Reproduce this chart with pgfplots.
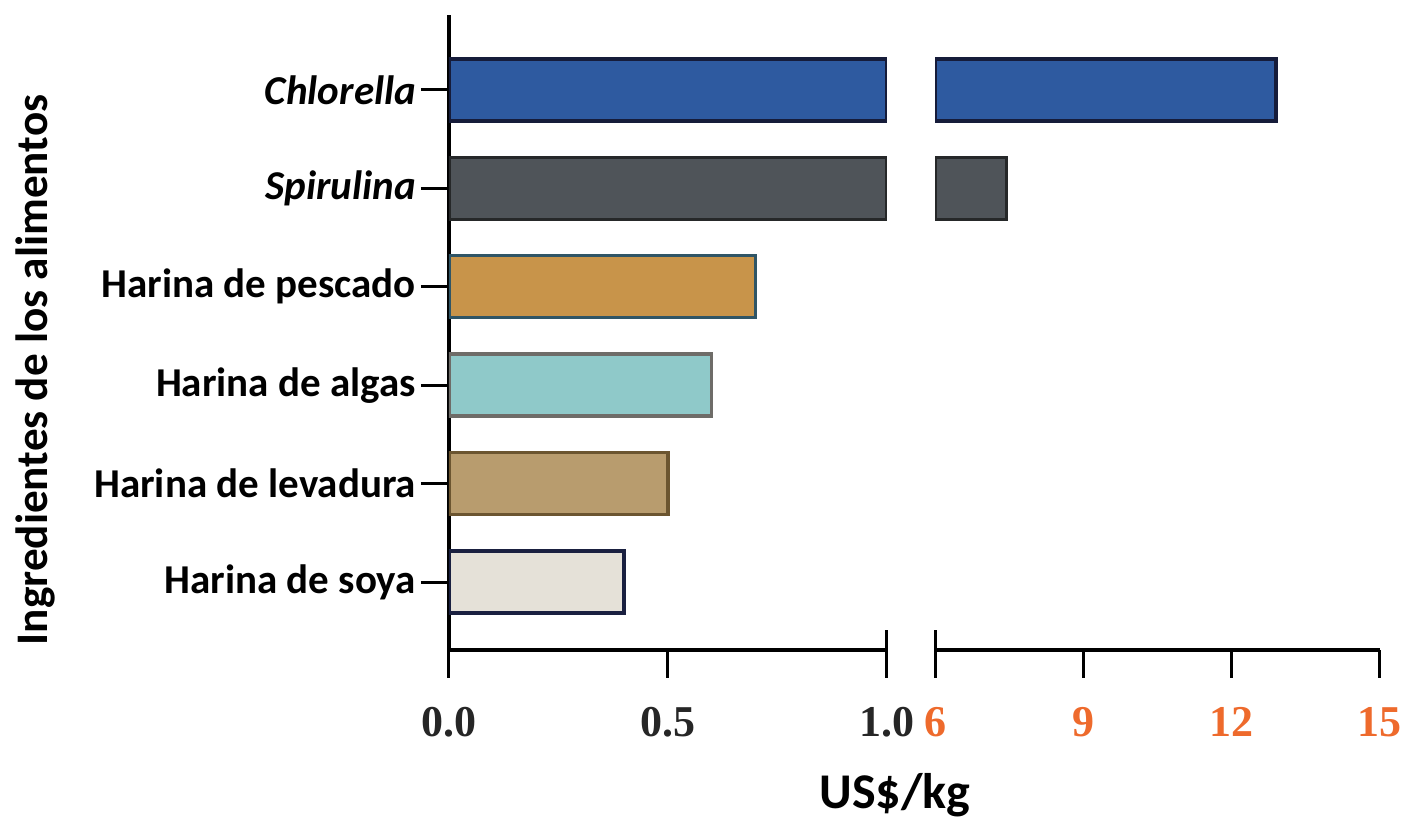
\documentclass[border=0pt]{standalone}
\usepackage{fontspec}
\setmainfont{Carlito}
\newfontfamily\numfont{Liberation Serif}
\usepackage{pgfplots}
\pgfplotsset{compat=1.18}
\definecolor{cChl}{HTML}{2E5AA0}
\definecolor{eChl}{HTML}{161C3A}
\definecolor{cSpi}{HTML}{4F5459}
\definecolor{eSpi}{HTML}{262829}
\definecolor{cPes}{HTML}{C8944A}
\definecolor{ePes}{HTML}{2F5566}
\definecolor{cAlg}{HTML}{8FC9C9}
\definecolor{eAlg}{HTML}{6E6C68}
\definecolor{cLev}{HTML}{B89C6E}
\definecolor{eLev}{HTML}{6B5530}
\definecolor{cSoy}{HTML}{E5E1D8}
\definecolor{eSoy}{HTML}{1A2040}
\definecolor{orangeT}{HTML}{EE6A2C}
\definecolor{grayT}{HTML}{262626}
\begin{document}
\begin{tikzpicture}
\useasboundingbox (0,0) rectangle (702.5pt,409pt);
\pgfplotsset{
  brk/.style={
    scale only axis, height=317.5pt,
    ymin=-0.69, ymax=5.76,
    xbar, bar width=31pt,
    axis line style={line width=2pt, black, -},
    every tick/.style={line width=1.5pt, black},
    tick align=outside, major tick length=14pt,
    /pgf/number format/assume math mode=true,
    xticklabel style={font=\numfont\bfseries\fontsize{22}{24}\selectfont, yshift=-11pt},
    extra x tick style={tick align=inside, major tick length=10pt},
    clip=true,
  },
  barS/.style={bar shift=0pt, line width=1.7pt},
}
\begin{axis}[brk,
  at={(224.5pt,84pt)}, anchor=south west,
  width=219pt,
  xmin=0, xmax=1,
  axis x line*=bottom, axis y line*=left,
  xtick={0,0.5,1}, xticklabels={0.0,0.5,1.0},
  extra x ticks={1}, extra x tick labels={},
  xticklabel style={text=grayT},
  ytick={0,1,2,3,4,5},
  yticklabels={Harina de soya,Harina de levadura,Harina de algas,Harina de pescado,\textit{Spirulina},\textit{Chlorella}},
  yticklabel style={font=\bfseries\fontsize{20.5}{22}\selectfont, xshift=1pt},
  xlabel={US\$/kg},
  xlabel style={at={(axis description cs:1.018,-0.228)}, anchor=center, font=\bfseries\fontsize{25}{28}\selectfont},
  ylabel={Ingredientes de los alimentos},
  ylabel style={at={(axis description cs:-0.945,0.441)}, anchor=center, rotate=0, font=\bfseries\fontsize{22.6}{26}\selectfont},
  restrict x to domain*=0:1,
]
\addplot[barS, fill=cChl, draw=eChl] coordinates {(12.9,5)};
\addplot[barS, fill=cSpi, draw=eSpi] coordinates {(7.45,4)};
\addplot[barS, fill=cPes, draw=ePes] coordinates {(0.7,3)};
\addplot[barS, fill=cAlg, draw=eAlg] coordinates {(0.6,2)};
\addplot[barS, fill=cLev, draw=eLev] coordinates {(0.5,1)};
\addplot[barS, fill=cSoy, draw=eSoy] coordinates {(0.4,0)};
\end{axis}
\begin{axis}[brk,
  at={(467.5pt,84pt)}, anchor=south west,
  width=222.5pt,
  xmin=6, xmax=15,
  axis x line*=bottom, axis y line=none,
  xtick={6,9,12,15},
  extra x ticks={6}, extra x tick labels={},
  xticklabel style={text=orangeT},
  ytick=\empty,
]
\addplot[barS, fill=cChl, draw=eChl] coordinates {(12.9,5)};
\addplot[barS, fill=cSpi, draw=eSpi] coordinates {(7.45,4)};
\end{axis}
\end{tikzpicture}
\end{document}
